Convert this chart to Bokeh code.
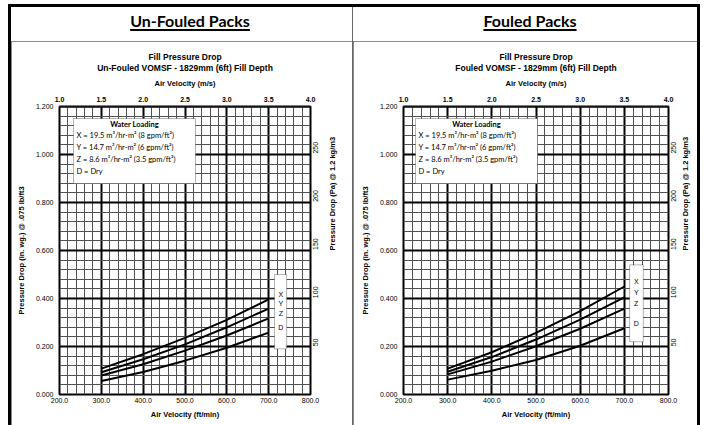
import math
from bokeh.plotting import figure
from bokeh.models import (Range1d, LinearAxis, SingleIntervalTicker, FixedTicker,
                          NumeralTickFormatter, Label, LabelSet, Title,
                          BoxAnnotation, ColumnDataSource, Div)
from bokeh.layouts import row, column
from bokeh.core.properties import value
from bokeh.embed import file_html
from bokeh.resources import INLINE

# ---------------- data ----------------
air_velocity_fpm = [300, 400, 500, 600, 700]
series_names = ["X", "Y", "Z", "D"]
legend_title = "Water Loading"
water_loading_labels = [
    "X = 19.5 m³/hr-m² (8 gpm/ft²)",
    "Y = 14.7 m³/hr-m² (6 gpm/ft²)",
    "Z = 8.6 m³/hr-m² (3.5 gpm/ft²)",
    "D = Dry",
]
unfouled_X = [0.108, 0.168, 0.236, 0.311, 0.396]
unfouled_Y = [0.093, 0.147, 0.209, 0.280, 0.358]
unfouled_Z = [0.079, 0.126, 0.183, 0.246, 0.317]
unfouled_D = [0.056, 0.094, 0.141, 0.195, 0.258]

fouled_X = [0.108, 0.176, 0.257, 0.347, 0.450]
fouled_Y = [0.095, 0.156, 0.229, 0.312, 0.405]
fouled_Z = [0.084, 0.137, 0.201, 0.274, 0.358]
fouled_D = [0.062, 0.099, 0.144, 0.203, 0.276]

x_range_fpm = (200, 800)
y_range_inwg = (0.0, 1.2)
ms_range = (1.0, 4.0)
ms_ticks = [1.0, 1.5, 2.0, 2.5, 3.0, 3.5, 4.0]
pa_ticks = [50, 100, 150, 200, 250]
IN_WG_TO_PA = 249.089

SANS = "Liberation Sans"
EPS = 1e-9


def make_panel(subtitle, curves, canvas_w, frame_l, frame_w, legend_off, box, letter_x, right_std):
    H = 384
    FT, FH = 65, 288
    FL, FW = frame_l, frame_w
    FR = canvas_w - FL - FW
    FB = H - FT - FH
    x0, x1 = x_range_fpm
    y0, y1 = y_range_inwg

    # frame-pixel offsets -> data units (for annotation placement only)
    def fx(px):
        return x0 + px / FW * (x1 - x0)

    def fy(py):
        return y1 - py / FH * (y1 - y0)

    p = figure(width=canvas_w, height=H, x_range=Range1d(x0, x1),
               y_range=Range1d(y0, y1 + EPS),
               output_backend="svg", toolbar_location=None,
               min_border_left=FL, min_border_right=FR, min_border_top=FT, min_border_bottom=FB,
               background_fill_color="white", border_fill_color="white",
               outline_line_color="black", outline_line_width=2)

    xax = p.xaxis[0]
    xax.ticker = SingleIntervalTicker(interval=100, num_minor_ticks=5)
    xax.formatter = NumeralTickFormatter(format="0.0")
    xax.axis_label = "Air Velocity (ft/min)"
    yax = p.yaxis[0]
    yax.ticker = SingleIntervalTicker(interval=0.2, num_minor_ticks=5)
    yax.formatter = NumeralTickFormatter(format="0.000")
    yax.axis_label = "Pressure Drop (in. wg.) @ .075 lb/ft3"

    p.extra_x_ranges = {"ms": Range1d(*ms_range)}
    top = LinearAxis(x_range_name="ms", ticker=FixedTicker(ticks=ms_ticks),
                     formatter=NumeralTickFormatter(format="0.0"),
                     axis_label="Air Velocity (m/s)")
    p.add_layout(top, "above")

    p.extra_y_ranges = {"pa": Range1d(y0 * IN_WG_TO_PA, (y1 + EPS) * IN_WG_TO_PA)}
    right = LinearAxis(y_range_name="pa", ticker=FixedTicker(ticks=pa_ticks),
                       axis_label="Pressure Drop (Pa) @ 1.2 kg/m3",
                       major_label_orientation=math.pi / 2)
    p.add_layout(right, "right")

    for ax in (xax, yax, top, right):
        ax.axis_line_color = None
        ax.major_tick_line_color = None
        ax.minor_tick_line_color = None
        ax.major_tick_out = 0
        ax.major_tick_in = 0
        ax.minor_tick_out = 0
        ax.minor_tick_in = 0
        ax.major_label_text_font = SANS
        ax.major_label_text_font_size = "7px"
        ax.major_label_text_color = "black"
        ax.axis_label_text_font = SANS
        ax.axis_label_text_font_size = "7.5px"
        ax.axis_label_text_font_style = "bold"
        ax.axis_label_text_color = "black"
    top.major_label_text_font_style = "bold"
    xax.major_label_standoff = 3
    xax.axis_label_standoff = 4
    yax.major_label_standoff = 6
    yax.axis_label_standoff = 7
    top.major_label_standoff = 5
    top.axis_label_standoff = 6
    right.major_label_standoff = right_std[0]
    right.axis_label_standoff = right_std[1]
    try:
        right.axis_label_orientation = math.pi / 2
    except Exception:
        pass

    # chart titles (stacked above the m/s axis)
    p.add_layout(Title(text=subtitle, text_font=SANS, text_font_style="bold",
                       text_font_size="8.5px", align="center", vertical_align="top",
                       standoff=2, text_color="black"), "above")
    p.add_layout(Title(text="Fill Pressure Drop", text_font=SANS, text_font_style="bold",
                       text_font_size="8.5px", align="center", vertical_align="bottom",
                       standoff=0, text_color="black"), "above")

    for g in (p.xgrid[0], p.ygrid[0]):
        g.grid_line_color = "black"
        g.grid_line_width = 2
        g.minor_grid_line_color = "#505050"
        g.minor_grid_line_width = 1

    for ys in curves:
        p.line(air_velocity_fpm, ys, line_color="black", line_width=2)

    # "Water Loading" key box
    lx, ly, lw, lh = legend_off
    p.add_layout(BoxAnnotation(left=fx(lx), right=fx(lx + lw), top=fy(ly), bottom=fy(ly + lh),
                               fill_color="white", fill_alpha=1,
                               line_color="black", line_width=1))
    p.add_layout(Label(x=fx(lx + lw / 2), y=fy(ly + 6), text=legend_title,
                       text_font="Lato", text_font_style="bold", text_font_size="7.5px",
                       text_color="black", text_align="center", text_baseline="middle"))
    row_offsets = [17, 29, 41, 53]
    lsrc = ColumnDataSource(dict(x=[fx(lx + 3)] * len(water_loading_labels),
                                 y=[fy(ly + o) for o in row_offsets],
                                 text=water_loading_labels))
    p.add_layout(LabelSet(x="x", y="y", text="text", source=lsrc,
                          text_font=value("Lato"), text_font_size="7.5px",
                          text_color="black", text_align="left", text_baseline="middle"))

    # curve-end key box
    bl, br, bb, bt = box
    p.add_layout(BoxAnnotation(left=bl, right=br, bottom=bb, top=bt,
                               fill_color="white", fill_alpha=1,
                               line_color="black", line_width=1))
    src = ColumnDataSource(dict(x=[letter_x] * len(curves),
                                y=[ys[-1] + 0.02 for ys in curves],
                                text=series_names))
    p.add_layout(LabelSet(x="x", y="y", text="text", source=src,
                          text_font=value(SANS), text_font_size="7px", text_color="black",
                          text_align="center", text_baseline="middle"))
    return p


def heading_div(text, width, shift):
    html = ('<div style="box-sizing:border-box;width:%dpx;text-align:center;font-family:Lato;'
            'font-weight:bold;font-size:16px;line-height:18px;padding-top:5px;'
            'padding-left:%dpx;color:black;">'
            '<span style="text-decoration:underline;text-underline-offset:2px;'
            'text-decoration-thickness:1.5px;">%s</span></div>' % (width, shift, text))
    return Div(text=html, width=width, height=34, margin=0,
               styles={"background-color": "white"})


p1 = make_panel("Un-Fouled VOMSF - 1829mm (6ft) Fill Depth",
                [unfouled_X, unfouled_Y, unfouled_Z, unfouled_D],
                341, 48, 251, (14, 12, 122, 65), (714, 743, 0.19, 0.50), 729, (5, 9))
p2 = make_panel("Fouled VOMSF - 1829mm (6ft) Fill Depth",
                [fouled_X, fouled_Y, fouled_Z, fouled_D],
                344, 50, 265, (12, 12, 122, 65), (712, 743, 0.22, 0.54), 727, (5, 4))

d1 = heading_div("Un-Fouled Packs", 341, 17)
d2 = heading_div("Fouled Packs", 344, 10)

layout = row(column(d1, p1, spacing=0), column(d2, p2, spacing=0), spacing=1,
             styles={"margin-left": "8px", "margin-top": "4px",
                     "border-top": "3px solid black", "border-left": "3px solid black",
                     "border-right": "3px solid black", "background-color": "#666666"})
open("out.html", "w").write(file_html(layout, INLINE))
